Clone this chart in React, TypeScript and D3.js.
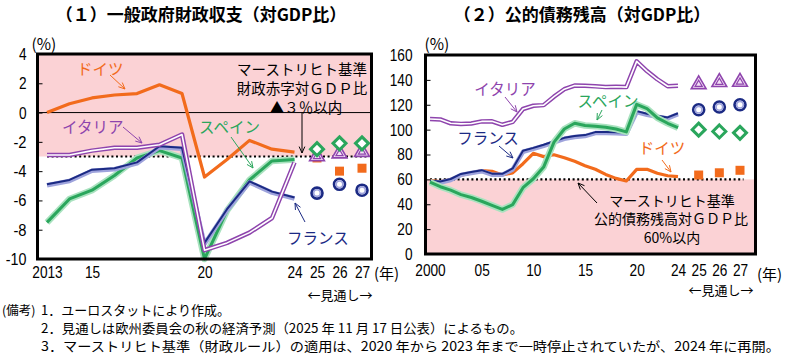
import { useEffect, useRef } from 'react';
import * as d3 from 'd3';

// (1) general government balance, % of GDP
const balanceYears = [2013, 2014, 2015, 2016, 2017, 2018, 2019, 2020, 2021, 2022, 2023, 2024];
const germanyBalance = [0.0, 0.6, 1.0, 1.2, 1.3, 1.9, 1.3, -4.4, -3.2, -1.9, -2.5, -2.7];
const italyBalance = [-2.9, -2.9, -2.6, -2.4, -2.4, -2.2, -1.5, -9.4, -8.9, -8.2, -7.2, -3.4];
const franceBalance = [-4.9, -4.6, -3.9, -3.8, -3.4, -2.3, -2.4, -8.9, -6.6, -4.7, -5.4, -5.8];
const spainBalance = [-7.5, -5.9, -5.3, -4.3, -3.1, -2.6, -3.1, -10.0, -6.7, -4.6, -3.3, -3.2];

// forecasts (EC autumn)
const forecastYears = [2025, 2026, 2027];
const germanyBalanceF = [-3.1, -4.0, -3.8];
const italyBalanceF = [-3.0, -2.8, -2.7];
const franceBalanceF = [-5.5, -4.9, -5.3];
const spainBalanceF = [-2.5, -2.1, -2.1];

// (2) public debt, % of GDP
const debtYears = d3.range(2000, 2025);
const italyDebt = [108.5, 108.2, 105.1, 104.6, 104.9, 106.6, 106.7, 103.9, 106.2, 116.6, 119.2, 119.7, 126.5, 132.5, 135.4, 135.3, 134.8, 134.2, 134.5, 134.2, 154.9, 147.1, 140.5, 134.9, 135.3];
const franceDebt = [58.9, 58.3, 60.3, 64.4, 65.9, 67.4, 64.6, 64.5, 68.8, 83.0, 85.3, 87.8, 90.6, 93.4, 94.9, 95.6, 98.0, 98.1, 97.8, 97.4, 114.9, 112.7, 111.2, 109.8, 113.2];
const spainDebt = [57.8, 54.1, 51.3, 47.7, 45.4, 42.4, 39.1, 35.8, 39.7, 53.3, 60.5, 69.9, 90.0, 100.5, 105.1, 103.3, 102.8, 101.9, 100.5, 98.2, 120.3, 116.8, 109.5, 105.1, 101.6];
const germanyDebt = [59.3, 58.1, 59.9, 63.4, 65.0, 67.0, 66.5, 63.6, 65.2, 72.6, 81.0, 78.3, 79.8, 77.4, 74.5, 71.0, 68.1, 64.0, 60.8, 58.7, 68.0, 68.1, 64.9, 62.9, 62.2];

const italyDebtF = [136.4, 138.1, 138.3];
const franceDebtF = [116.0, 118.2, 120.0];
const spainDebtF = [100.0, 98.5, 97.4];
const germanyDebtF = [63.5, 65.3, 67.3];

const balanceTicks = [4, 2, 0, -2, -4, -6, -8, -10];
const debtTicks = [0, 20, 40, 60, 80, 100, 120, 140, 160];
const balanceXTicks = [2013, 2015, 2020, 2024, 2025, 2026, 2027];
const debtXTicks = [2000, 2005, 2010, 2015, 2020, 2024, 2025, 2026, 2027];

const notes = [
  '1．ユーロスタットにより作成。',
  '2．見通しは欧州委員会の秋の経済予測（2025 年 11 月 17 日公表）によるもの。',
  '3．マーストリヒト基準（財政ルール）の適用は、2020 年から 2023 年まで一時停止されていたが、2024 年に再開。',
];

const C = {
  germany: '#f26b1c',
  italy: '#8e44ad',
  france: '#1b2a84',
  franceShade: '#9ea3dc',
  spain: '#2aa65c',
  spainShade: '#a9e2bf',
  pink: '#fbd2d5',
};

const JP = '"Noto Sans CJK JP", "Noto Sans", sans-serif';
const NUM = '"Liberation Sans", Arial, sans-serif';

type G = d3.Selection<SVGGElement, unknown, null, undefined>;

function arrow(g: G, x1: number, y1: number, x2: number, y2: number, color: string) {
  const ang = Math.atan2(y2 - y1, x2 - x1);
  const L = 7;
  const a = 0.42;
  g.append('line')
    .attr('x1', x1).attr('y1', y1).attr('x2', x2).attr('y2', y2)
    .attr('stroke', color).attr('stroke-width', 1);
  g.append('path')
    .attr('d', `M${x2 - L * Math.cos(ang - a)},${y2 - L * Math.sin(ang - a)}L${x2},${y2}L${x2 - L * Math.cos(ang + a)},${y2 - L * Math.sin(ang + a)}`)
    .attr('fill', 'none').attr('stroke', color).attr('stroke-width', 1);
}

function label(g: G, x: number, y: number, s: string, color: string, size: number, anchor = 'start') {
  return g.append('text')
    .attr('x', x).attr('y', y)
    .attr('dominant-baseline', 'central')
    .attr('text-anchor', anchor)
    .attr('font-family', JP)
    .attr('font-size', size)
    .attr('fill', color)
    .text(s);
}

interface Panel {
  g: G;
  x: d3.ScaleLinear<number, number>;
  y: d3.ScaleLinear<number, number>;
}

function drawSeries(p: Panel, years: number[], vals: number[], kind: string) {
  const line = d3.line<number>().x((_, i) => p.x(years[i])).y((d) => p.y(d));
  const d = line(vals) || '';
  const add = (stroke: string, w: number, dy = 0) =>
    p.g.append('path').attr('d', d).attr('fill', 'none').attr('stroke', stroke)
      .attr('stroke-width', w).attr('stroke-linejoin', 'round')
      .attr('transform', `translate(0,${dy})`);
  if (kind === 'italy') { add(C.italy, 4.5); add('#fff', 1.6); }
  if (kind === 'france') { add(C.franceShade, 4.5, 1); add(C.france, 2); }
  if (kind === 'spain') { add(C.spainShade, 6.5); add(C.spain, 3); }
  if (kind === 'germany') add(C.germany, 3.2);
}

function drawMarkers(p: Panel, years: number[], vals: number[], kind: string) {
  years.forEach((yr, i) => {
    const cx = p.x(yr);
    const cy = p.y(vals[i]);
    const m = p.g.append('g').attr('transform', `translate(${cx},${cy})`);
    if (kind === 'germany') {
      m.append('rect').attr('x', -4.5).attr('y', -4.5).attr('width', 9).attr('height', 9).attr('fill', C.germany);
    } else if (kind === 'italy') {
      m.append('path').attr('d', d3.symbol(d3.symbolTriangle, 95)()).attr('fill', '#f3e1f5')
        .attr('stroke', C.italy).attr('stroke-width', 1.6);
      m.append('path').attr('d', d3.symbol(d3.symbolTriangle, 22)()).attr('fill', 'none')
        .attr('stroke', C.italy).attr('stroke-width', 1.2);
    } else if (kind === 'france') {
      m.append('circle').attr('r', 5.5).attr('fill', '#fff').attr('stroke', C.france).attr('stroke-width', 2.6);
      m.append('circle').attr('r', 3.3).attr('fill', '#fff').attr('stroke', C.franceShade).attr('stroke-width', 1.6);
    } else if (kind === 'spain') {
      const r = 6.5;
      m.append('path').attr('d', `M0,${-r}L${r},0L0,${r}L${-r},0Z`).attr('fill', '#fff')
        .attr('stroke', C.spain).attr('stroke-width', 3);
    }
  });
}

export default function App() {
  const svgRef = useRef<SVGSVGElement>(null);

  useEffect(() => {
    if (!svgRef.current) return;
    const svg = d3.select(svgRef.current);
    svg.selectAll('*').remove();
    const root = svg.append('g') as unknown as G;

    // ---------- left panel ----------
    const L = { left: 37.5, top: 54, right: 371.5, bottom: 259 };
    const xL = d3.scaleLinear().domain([2013, 2027]).range([47, 362]);
    const yL = d3.scaleLinear().domain([-10, 4]).range([L.bottom, L.top]);
    const gl = root.append('g') as unknown as G;
    const pl: Panel = { g: gl, x: xL, y: yL };

    gl.append('rect').attr('x', L.left).attr('y', L.top)
      .attr('width', L.right - L.left).attr('height', yL(-3) - L.top).attr('fill', C.pink);
    gl.append('line').attr('x1', L.left).attr('x2', L.right).attr('y1', yL(0)).attr('y2', yL(0))
      .attr('stroke', '#000').attr('stroke-width', 1);
    gl.append('line').attr('x1', xL(2013)).attr('x2', L.right - 3).attr('y1', yL(-3)).attr('y2', yL(-3))
      .attr('stroke', '#000').attr('stroke-width', 2.2).attr('stroke-dasharray', '2,2.6');

    drawSeries(pl, balanceYears, spainBalance, 'spain');
    drawSeries(pl, balanceYears, franceBalance, 'france');
    drawSeries(pl, balanceYears, italyBalance, 'italy');
    drawSeries(pl, balanceYears, germanyBalance, 'germany');
    drawMarkers(pl, forecastYears, franceBalanceF, 'france');
    drawMarkers(pl, forecastYears, germanyBalanceF, 'germany');
    drawMarkers(pl, forecastYears, italyBalanceF, 'italy');
    drawMarkers(pl, forecastYears, spainBalanceF, 'spain');

    gl.append('rect').attr('x', L.left).attr('y', L.top)
      .attr('width', L.right - L.left).attr('height', L.bottom - L.top)
      .attr('fill', 'none').attr('stroke', '#000').attr('stroke-width', 3);

    const yAxL = gl.append('g').attr('transform', `translate(${L.left},0)`)
      .call(d3.axisLeft(yL).tickValues(balanceTicks).tickSizeInner(-5).tickSizeOuter(0).tickPadding(11)
        .tickFormat((d) => String(d)));
    yAxL.select('.domain').remove();
    const xAxL = gl.append('g').attr('transform', `translate(0,${L.bottom})`)
      .call(d3.axisBottom(xL).tickValues(balanceXTicks).tickSize(0).tickPadding(7)
        .tickFormat((d) => (+d === 2013 ? '2013' : String(+d % 100).padStart(2, '0'))));
    xAxL.select('.domain').remove();

    // annotations left
    label(gl, 77, 68, 'ドイツ', C.germany, 15.5);
    arrow(gl, 110, 75, 125, 89, C.germany);
    label(gl, 302, 68, 'マーストリヒト基準', '#000', 14.5, 'middle');
    label(gl, 302, 87, '財政赤字対ＧＤＰ比', '#000', 14.5, 'middle');
    label(gl, 306, 106, '▲３％以内', '#000', 14.5, 'middle');
    arrow(gl, 302, yL(0), 302, 153, '#000');
    label(gl, 62, 126, 'イタリア', C.italy, 15.5);
    arrow(gl, 123, 127, 142, 143, C.italy);
    label(gl, 199, 126, 'スペイン', C.spain, 15.5);
    arrow(gl, 231, 137, 253, 168, C.spain);
    label(gl, 287, 237, 'フランス', C.france, 15.5);
    arrow(gl, 305, 222, 295, 203, C.france);
    label(gl, 340, 294, '←見通し→', '#000', 13, 'middle');
    label(gl, 374, 272, '(年)', '#000', 15);
    label(gl, 44, 43, '(%)', '#000', 15.5, 'middle');
    label(gl, 201, 13, '（１）一般政府財政収支（対GDP比）', '#000', 17, 'middle').attr('font-weight', 'bold');

    // ---------- right panel ----------
    const R = { left: 425.5, top: 55, right: 755.5, bottom: 254 };
    const xR = d3.scaleLinear().domain([2000, 2024, 2027]).range([430, 678, 740]);
    const yR = d3.scaleLinear().domain([0, 160]).range([R.bottom, R.top]);
    const gr = root.append('g') as unknown as G;
    const pr: Panel = { g: gr, x: xR, y: yR };

    gr.append('rect').attr('x', R.left).attr('y', yR(60))
      .attr('width', R.right - R.left).attr('height', R.bottom - yR(60)).attr('fill', C.pink);
    gr.append('line').attr('x1', xR(2000)).attr('x2', R.right - 12).attr('y1', yR(60)).attr('y2', yR(60))
      .attr('stroke', '#000').attr('stroke-width', 2.2).attr('stroke-dasharray', '2,2.6');

    drawSeries(pr, debtYears, germanyDebt, 'germany');
    drawSeries(pr, debtYears, franceDebt, 'france');
    drawSeries(pr, debtYears, spainDebt, 'spain');
    drawSeries(pr, debtYears, italyDebt, 'italy');
    drawMarkers(pr, forecastYears, germanyDebtF, 'germany');
    drawMarkers(pr, forecastYears, spainDebtF, 'spain');
    drawMarkers(pr, forecastYears, franceDebtF, 'france');
    drawMarkers(pr, forecastYears, italyDebtF, 'italy');

    gr.append('rect').attr('x', R.left).attr('y', R.top)
      .attr('width', R.right - R.left).attr('height', R.bottom - R.top)
      .attr('fill', 'none').attr('stroke', '#000').attr('stroke-width', 3);

    const yAxR = gr.append('g').attr('transform', `translate(${R.left},0)`)
      .call(d3.axisLeft(yR).tickValues(debtTicks).tickSizeInner(-5).tickSizeOuter(0).tickPadding(13)
        .tickFormat((d) => String(d)));
    yAxR.select('.domain').remove();
    const xAxR = gr.append('g').attr('transform', `translate(0,${R.bottom})`)
      .call(d3.axisBottom(xR).tickValues(debtXTicks).tickSize(0).tickPadding(10)
        .tickFormat((d) => (+d === 2000 ? '2000' : String(+d % 100).padStart(2, '0'))));
    xAxR.select('.domain').remove();

    label(gr, 505, 88, 'イタリア', C.italy, 15.5, 'middle');
    arrow(gr, 505, 97, 517, 112, C.italy);
    label(gr, 488, 137, 'フランス', C.france, 15.5, 'middle');
    arrow(gr, 499, 146, 513, 158, C.france);
    label(gr, 608, 100, 'スペイン', C.spain, 15.5, 'middle');
    arrow(gr, 602, 110, 597, 120, C.spain);
    label(gr, 662, 147, 'ドイツ', C.germany, 15.5, 'middle');
    arrow(gr, 662, 160, 671, 172, C.germany);
    label(gr, 672, 200, 'マーストリヒト基準', '#000', 14, 'middle');
    label(gr, 671, 218, '公的債務残高対ＧＤＰ比', '#000', 14, 'middle');
    label(gr, 672, 237, '60%以内', '#000', 14, 'middle');
    arrow(gr, 597, 203, 578, 183, '#000');
    label(gr, 721, 289, '←見通し→', '#000', 13, 'middle');
    label(gr, 757, 273, '(年)', '#000', 15);
    label(gr, 437, 43, '(%)', '#000', 15.5, 'middle');
    label(gr, 582, 13, '（２）公的債務残高（対GDP比）', '#000', 17, 'middle').attr('font-weight', 'bold');

    // axis text style: narrow digits like the original
    root.selectAll<SVGTextElement, unknown>('.tick text')
      .attr('font-family', NUM)
      .attr('font-size', 17)
      .attr('fill', '#000')
      .attr('lengthAdjust', 'spacingAndGlyphs')
      .attr('textLength', function () {
        const s = this.textContent || '';
        return s.replace('-', '').length * 7.6 + (s.includes('-') ? 5.5 : 0);
      });
    root.selectAll('.tick line').attr('stroke', '#000').attr('stroke-width', 1);

    // notes
    label(root, 2, 309, '(備考)', '#000', 12.5);
    notes.forEach((n, i) => {
      const t = root.append('text')
        .attr('x', 41).attr('y', 309 + i * 18)
        .attr('dominant-baseline', 'central')
        .attr('font-family', JP).attr('font-size', 13)
        .attr('fill', '#000').text(n);
      if (i === 1) t.attr('textLength', 482).attr('lengthAdjust', 'spacingAndGlyphs');
      if (i === 2) t.attr('textLength', 739).attr('lengthAdjust', 'spacingAndGlyphs');
    });
  }, []);

  return (
    <svg
      ref={svgRef}
      width={787}
      height={353}
      style={{ position: 'absolute', left: 0, top: 0, background: '#fff' }}
    />
  );
}
